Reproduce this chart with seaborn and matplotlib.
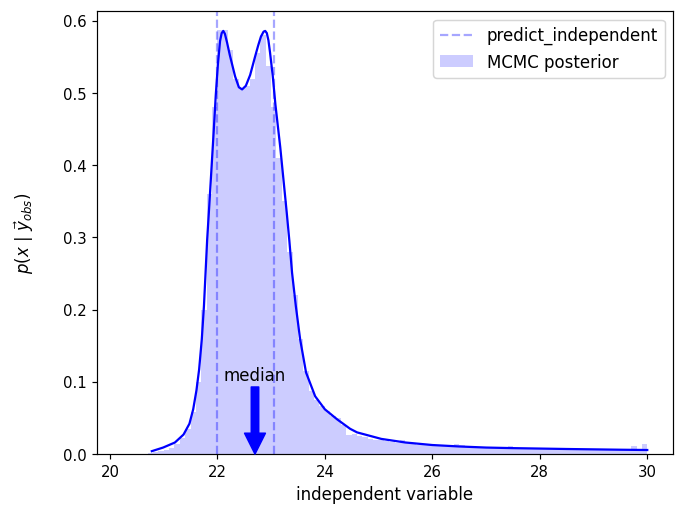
import pandas as pd
import seaborn as sns
import matplotlib.pyplot as plt
from matplotlib.lines import Line2D
from matplotlib.patches import Patch

# MCMC posterior histogram, 0.1 wide bins from 20 to 30 (density values)
bin_edges = [round(20.0 + 0.1 * i, 2) for i in range(101)]
hist_heights = [
    0.0, 0.0, 0.0, 0.0, 0.0, 0.0, 0.0, 0.002, 0.003, 0.004,            # 20.0 - 21.0
    0.006, 0.009, 0.014, 0.022, 0.035, 0.058, 0.10, 0.20, 0.36, 0.48,  # 21.0 - 22.0
    0.587, 0.587, 0.56, 0.52, 0.505, 0.51, 0.52, 0.556, 0.58, 0.537,   # 22.0 - 23.0
    0.48, 0.41, 0.35, 0.28, 0.22, 0.16, 0.115, 0.088, 0.075, 0.066,    # 23.0 - 24.0
    0.06, 0.053, 0.05, 0.04, 0.026, 0.028, 0.025, 0.023, 0.021, 0.02,  # 24.0 - 25.0
    0.019, 0.018, 0.017, 0.016, 0.019, 0.016, 0.014, 0.013, 0.013, 0.012,  # 25.0 - 26.0
    0.012, 0.011, 0.011, 0.010, 0.014, 0.013, 0.010, 0.009, 0.010, 0.009,  # 26.0 - 27.0
    0.009, 0.009, 0.008, 0.009, 0.011, 0.008, 0.008, 0.008, 0.008, 0.008,  # 27.0 - 28.0
    0.008, 0.008, 0.007, 0.008, 0.007, 0.009, 0.007, 0.007, 0.007, 0.007,  # 28.0 - 29.0
    0.007, 0.007, 0.006, 0.007, 0.006, 0.006, 0.006, 0.011, 0.007, 0.014,  # 29.0 - 30.0
]

# density curve
curve_x = [20.78, 20.99, 21.21, 21.37, 21.48, 21.55, 21.61, 21.66, 21.71, 21.75,
           21.78, 21.81, 21.85, 21.89, 21.93, 21.97, 22.01, 22.05, 22.08, 22.11,
           22.14, 22.18, 22.23, 22.33, 22.40, 22.46, 22.53, 22.61, 22.70, 22.76,
           22.81, 22.86, 22.89, 22.92, 22.95, 22.98, 23.03, 23.08, 23.17, 23.23,
           23.29, 23.34, 23.39, 23.46, 23.54, 23.65, 23.82, 24.00, 24.23, 24.47,
           24.60, 25.05, 25.5, 26.0, 26.5, 27.0, 27.5, 28.0, 28.5, 29.0,
           29.5, 30.0]
curve_y = [0.004, 0.009, 0.016, 0.027, 0.042, 0.062, 0.088, 0.117, 0.159, 0.205,
           0.251, 0.297, 0.345, 0.395, 0.445, 0.497, 0.540, 0.572, 0.583, 0.586,
           0.582, 0.570, 0.553, 0.523, 0.508, 0.505, 0.510, 0.525, 0.550, 0.566,
           0.578, 0.585, 0.586, 0.583, 0.573, 0.556, 0.524, 0.484, 0.425, 0.380,
           0.335, 0.295, 0.251, 0.205, 0.159, 0.113, 0.080, 0.062, 0.048, 0.035,
           0.030, 0.021, 0.016, 0.0125, 0.0105, 0.009, 0.0082, 0.0076, 0.007, 0.0065,
           0.006, 0.0056]

predict_independent = [22.0, 23.05]
median = 22.70

hist_df = pd.DataFrame({
    "x": [(a + b) / 2 for a, b in zip(bin_edges[:-1], bin_edges[1:])],
    "w": hist_heights,
})

plt.rcParams["axes.labelsize"] = 11.2
plt.rcParams["legend.fontsize"] = 11.2

fig, ax = plt.subplots(figsize=(6.4, 4.8), dpi=107.2)
fig.subplots_adjust(left=0.1414, right=0.981, bottom=0.1165, top=0.9767)

sns.histplot(data=hist_df, x="x", weights="w", bins=bin_edges, stat="count",
             element="bars", color="blue", alpha=0.2, linewidth=0, ax=ax)
sns.lineplot(x=curve_x, y=curve_y, color="blue", linewidth=1.5, ax=ax)

for v in predict_independent:
    ax.axvline(v, color="blue", alpha=0.35, ls="--", lw=1.5)

ax.annotate("median", xy=(median, 0.0), xytext=(median, 0.097),
            ha="center", va="bottom", fontsize=11.2,
            arrowprops=dict(color="blue", width=5, headwidth=14, headlength=14))

ax.set_xlim(19.76, 30.48)
ax.set_ylim(0, 0.613)
ax.set_xlabel("independent variable")
ax.set_ylabel(r"$p(x\ |\ \vec{y}_{obs})$", labelpad=18)

handles = [Line2D([], [], color="blue", alpha=0.35, ls="--", lw=1.5),
           Patch(facecolor="blue", alpha=0.2)]
ax.legend(handles, ["predict_independent", "MCMC posterior"], loc="upper right")

fig.savefig("out.png", dpi=107.2)
